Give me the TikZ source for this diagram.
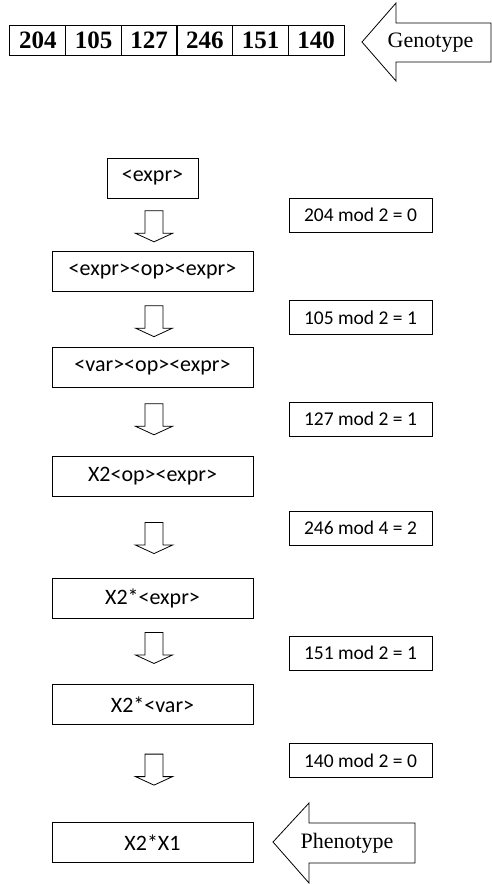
\documentclass[tikz,border=0pt]{standalone}
\usepackage{fontspec}
\setmainfont{Liberation Serif}
\newfontfamily\calibri{Carlito}
\usepackage{tikz}
\usetikzlibrary{calc}

\begin{document}
\begin{tikzpicture}[x=1pt, y=-1pt, line join=miter,
    genecell/.style={draw, line width=1pt, minimum width=55.7, minimum height=30,
      inner sep=0pt, font=\fontsize{25}{28}\selectfont\bfseries},
    rulebox/.style={draw, line width=1pt, minimum width=201, minimum height=40,
      inner sep=0pt, font=\calibri\fontsize{22}{26}\selectfont},
    modbox/.style={draw, line width=1pt, minimum width=143, minimum height=34,
      inner sep=0pt, font=\calibri\fontsize{19.5}{23}\selectfont},
    bigarrow/.style={draw, line width=0.8pt},
    arrowtext/.style={font=\fontsize{22}{26}\selectfont, inner sep=0pt}]
    \useasboundingbox (0,0) rectangle (492,884);
    % Genotype codons
    \foreach \v [count=\i] in {204,105,127,246,151,140}
      \node [genecell] (g\i) at ({10+55.67*(\i-0.5)},40) {\v};
    % Genotype arrow
    \draw [bigarrow] (362,42) -- (396,3) -- (396,23) -- (491,23) -- (491,62)
      -- (396,62) -- (396,81) -- cycle;
    \node [arrowtext] (geno) at (430.5,43) {Genotype};
    % Derivation steps
    \node [rulebox, minimum width=91] (r1) at (152.5,178) {<expr>};
    \node [rulebox] (r2) at (152.5,271.5) {<expr><op><expr>};
    \node [rulebox] (r3) at (152.5,367.5) {<var><op><expr>};
    \node [rulebox] (r4) at (152.5,476.5) {X2<op><expr>};
    \node [rulebox] (r5) at (152.5,598) {X2*<expr>};
    \node [rulebox] (r6) at (152.5,704.5) {X2*<var>};
    \node [rulebox] (r7) at (152.5,842.5) {X2*X1};
    % Down arrows between steps
    \foreach \a/\b/\f in {r1/r2/0.53, r2/r3/0.53, r3/r4/0.46, r4/r5/0.51, r5/r6/0.45, r6/r7/0.46}
      \draw [bigarrow] ($(\a.south)!\f!(\b.north)$) ++(-7.5,-15.5) -- ++(18,0)
        -- ++(0,22.5) -- ++(9.5,0) -- ++(-18.5,8.5) -- ++(-18.5,-8.5) -- ++(9.5,0) -- cycle;
    % Mod rules
    \node [modbox] (m1) at (360.5,215) {204 mod 2 = 0};
    \node [modbox] (m2) at (360.5,317.5) {105 mod 2 = 1};
    \node [modbox] (m3) at (360.5,419) {127 mod 2 = 1};
    \node [modbox] (m4) at (360.5,528) {246 mod 4 = 2};
    \node [modbox] (m5) at (360.5,653) {151 mod 2 = 1};
    \node [modbox] (m6) at (360.5,760.5) {140 mod 2 = 0};
    % Phenotype arrow
    \draw [bigarrow] (273,842) -- (309,803) -- (309,823) -- (415,823) -- (415,863)
      -- (309,863) -- (309,883) -- cycle;
    \node [arrowtext] (pheno) at (347,843) {Phenotype};
\end{tikzpicture}
\end{document}
